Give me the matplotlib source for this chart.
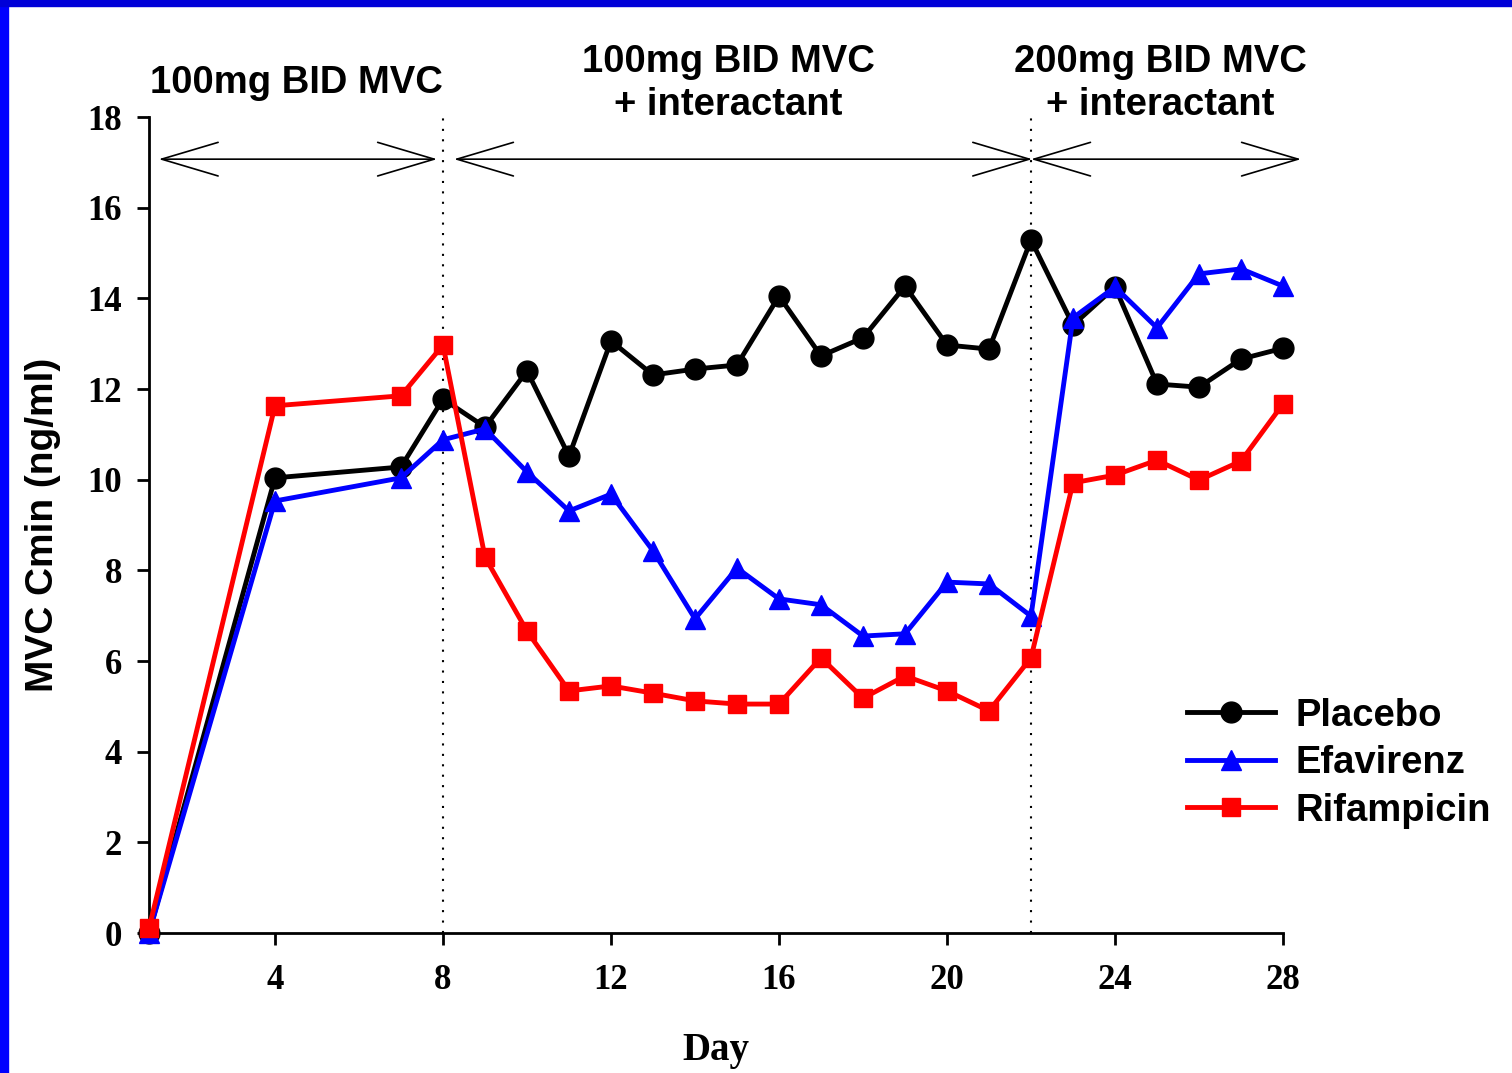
import matplotlib
matplotlib.use("Agg")
import matplotlib.pyplot as plt
from matplotlib.patches import Rectangle

days = [1, 4, 7, 8, 9, 10, 11, 12, 13, 14, 15, 16, 17, 18, 19, 20, 21, 22, 23, 24, 25, 26, 27, 28]
placebo = [0.0, 10.04, 10.28, 11.78, 11.16, 12.4, 10.52, 13.06, 12.31, 12.44, 12.53, 14.05, 12.73,
           13.13, 14.27, 12.97, 12.88, 15.29, 13.41, 14.25, 12.11, 12.04, 12.66, 12.9]
efavirenz = [0.0, 9.53, 10.04, 10.88, 11.12, 10.17, 9.31, 9.68, 8.43, 6.93, 8.05, 7.37, 7.24,
             6.55, 6.6, 7.74, 7.7, 6.99, 13.57, 14.25, 13.35, 14.54, 14.65, 14.27]
rifampicin = [0.1, 11.63, 11.85, 12.97, 8.29, 6.66, 5.34, 5.45, 5.29, 5.12, 5.05, 5.05, 6.07,
              5.18, 5.67, 5.34, 4.9, 6.07, 9.93, 10.1, 10.43, 9.99, 10.41, 11.67]

phase_labels = ["100mg BID MVC", "100mg BID MVC\n+ interactant", "200mg BID MVC\n+ interactant"]
phase_bounds = [1, 8, 22, 28]
x_ticks = [4, 8, 12, 16, 20, 24, 28]
y_ticks = [0, 2, 4, 6, 8, 10, 12, 14, 16, 18]

serif = "Liberation Serif"
sans = "Liberation Sans"

fig = plt.figure(figsize=(15.12, 10.73), dpi=100)
ax = fig.add_axes([149 / 1512, 1 - 933 / 1073, (1283 - 149) / 1512, (933 - 117) / 1073])

# blue slide frame
fig.patches.append(Rectangle((0, 0), 8 / 1512, 1, transform=fig.transFigure, color="#0000ff", zorder=10))
fig.patches.append(Rectangle((0, 1 - 6 / 1073), 1, 6 / 1073, transform=fig.transFigure, color="#0000d8", zorder=10))

ax.plot(days, placebo, color="black", lw=3.5, marker="o", ms=15, label="Placebo", clip_on=False, zorder=3)
ax.plot(days, efavirenz, color="#0000ff", lw=3.5, marker="^", ms=15, label="Efavirenz", clip_on=False, zorder=4)
ax.plot(days, rifampicin, color="#ff0000", lw=3.5, marker="s", ms=13, label="Rifampicin", clip_on=False, zorder=5)

for b in phase_bounds[1:3]:
    ax.axvline(b, color="black", lw=1.5, ls=(0, (1, 4)), zorder=1)

arrow_y = 17.07
pads = [(0.23, 0.14), (0.26, -0.03), (0.0, -0.43)]
for i, lab in enumerate(phase_labels):
    x0 = phase_bounds[i] + pads[i][0]
    x1 = phase_bounds[i + 1] - pads[i][1]
    ax.annotate("", xy=(x1, arrow_y), xytext=(x0, arrow_y), annotation_clip=False,
                arrowprops=dict(arrowstyle="<->,head_length=1.85,head_width=0.55", lw=1.2,
                                color="black", shrinkA=0, shrinkB=0, mutation_scale=22))

label_y = 18.74
for xc, lab in zip([4.52, 14.79, 25.07], phase_labels):
    ax.text(xc, label_y, lab, ha="center", va="center", fontsize=27.5, fontweight="bold",
            family=sans, linespacing=1.25, clip_on=False)

ax.set_xlim(1, 28)
ax.set_ylim(0, 18)
ax.spines["top"].set_visible(False)
ax.spines["right"].set_visible(False)
ax.spines["left"].set_linewidth(2)
ax.spines["bottom"].set_linewidth(2)
ax.set_xticks(x_ticks)
ax.set_yticks(y_ticks)
ax.tick_params(axis="both", direction="out", width=2, length=8.6, labelsize=25)
ax.tick_params(axis="x", pad=14)
ax.tick_params(axis="y", pad=11)
for t in ax.get_xticklabels() + ax.get_yticklabels():
    t.set_fontfamily(serif)
    t.set_fontweight("bold")

ax.set_xlabel("Day", fontsize=28, fontweight="bold", family=serif, labelpad=25)
ax.set_ylabel("MVC Cmin (ng/ml)", fontsize=28, fontweight="bold", family=sans, labelpad=19)

leg = ax.legend(loc="center left", bbox_to_anchor=(0.885, 0.208), frameon=False, handlelength=2.3,
                handletextpad=0.55, labelspacing=0.3, prop={"family": sans, "weight": "bold", "size": 27.5})

fig.savefig("out.png", dpi=100, facecolor="white")
